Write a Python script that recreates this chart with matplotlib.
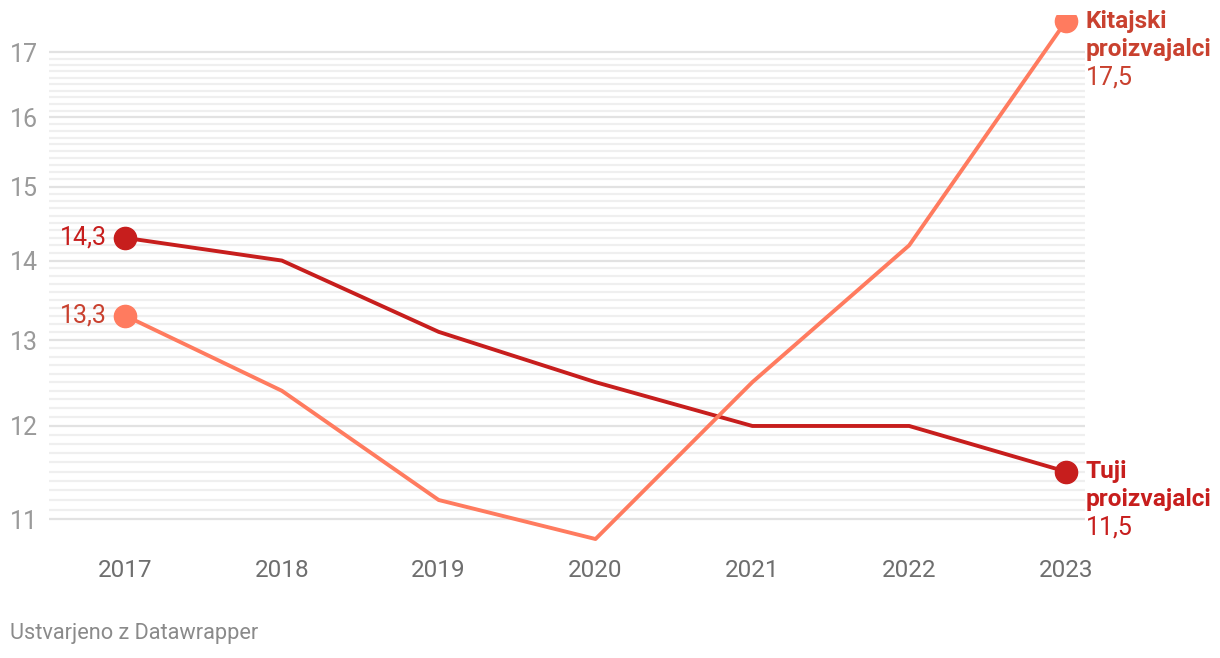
import matplotlib
matplotlib.use("Agg")
import matplotlib.pyplot as plt
import numpy as np
from matplotlib.ticker import FixedLocator, NullFormatter
from matplotlib.transforms import blended_transform_factory

plt.rcParams['font.family'] = ['Roboto', 'DejaVu Sans']

years = [2017, 2018, 2019, 2020, 2021, 2022, 2023]
tuji = [14.3, 14.0, 13.1, 12.5, 12.0, 12.0, 11.5]
kitajski = [13.3, 12.4, 11.2, 10.8, 12.5, 14.2, 17.5]
yticks = [11, 12, 13, 14, 15, 16, 17]
minor_ticks = [round(v, 1) for v in np.arange(11.0, 17.01, 0.1) if abs(v - round(v)) > 0.01]

c_tuji = '#c71e1d'
c_kit = '#ff7b5f'
c_kit_txt = '#c9412f'

W, H = 1220, 658
fig = plt.figure(figsize=(W / 100, H / 100), dpi=100)
left, right, top, bottom = 49, 1085, 15, 545
ax = fig.add_axes([left / W, 1 - bottom / H, (right - left) / W, (bottom - top) / H])

ax.set_yscale('log')
ax.set_ylim(10.74, 17.60)
ax.set_xlim(2017 - 76 / 156.8, 2023 + 19 / 156.8)

for v in minor_ticks:
    ax.axhline(v, color='#efefef', lw=1.6, zorder=0)
for v in yticks:
    ax.axhline(v, color='#e2e2e2', lw=1.6, zorder=0)

ax.plot(years, tuji, color=c_tuji, lw=2.8, zorder=3, solid_capstyle='round')
ax.plot(years, kitajski, color=c_kit, lw=2.8, zorder=3, solid_capstyle='round')
for s, c in ((tuji, c_tuji), (kitajski, c_kit)):
    ax.plot([years[0], years[-1]], [s[0], s[-1]], 'o', color=c, ms=16, zorder=4)

ax.yaxis.set_major_locator(FixedLocator([]))
ax.yaxis.set_minor_locator(FixedLocator([]))
ax.yaxis.set_minor_formatter(NullFormatter())
trans = blended_transform_factory(fig.transFigure, ax.transData)
for v in yticks:
    fig.text(10 / W, v, str(v), transform=trans, ha='left', va='center_baseline',
             fontsize=18, color='#9a9a9a')

ax.set_xticks(years)
ax.set_xticklabels([str(y) for y in years])
ax.tick_params(axis='x', length=0, pad=10, labelsize=17.5, labelcolor='#6e6e6e')
for sp in ax.spines.values():
    sp.set_visible(False)

# start labels
ax.annotate(f"{tuji[0]}".replace('.', ','), (years[0], tuji[0]), xytext=(-18, 0),
            textcoords='offset pixels', ha='right', va='center', fontsize=18, color=c_tuji)
ax.annotate(f"{kitajski[0]}".replace('.', ','), (years[0], kitajski[0]), xytext=(-18, 0),
            textcoords='offset pixels', ha='right', va='center', fontsize=18, color=c_kit_txt)

# end labels
def end_label(y, name, val, color):
    ax.annotate(name, (years[-1], y), xytext=(20, 0), textcoords='offset pixels',
                ha='left', va='center', fontsize=17.6, fontweight='bold', color=color, annotation_clip=False)
    ax.annotate("proizvajalci", (years[-1], y), xytext=(20, -28), textcoords='offset pixels',
                ha='left', va='center', fontsize=17.6, fontweight='bold', color=color, annotation_clip=False)
    ax.annotate(f"{val}".replace('.', ','), (years[-1], y), xytext=(20, -56), textcoords='offset pixels',
                ha='left', va='center', fontsize=18, color=color, annotation_clip=False)

end_label(kitajski[-1], "Kitajski", kitajski[-1], c_kit_txt)
end_label(tuji[-1], "Tuji", tuji[-1], c_tuji)

fig.text(10 / W, 1 - 634 / H, "Ustvarjeno z Datawrapper", fontsize=15.7, color='#8a8a8a',
         ha='left', va='center')

fig.savefig("out.png", dpi=100)
